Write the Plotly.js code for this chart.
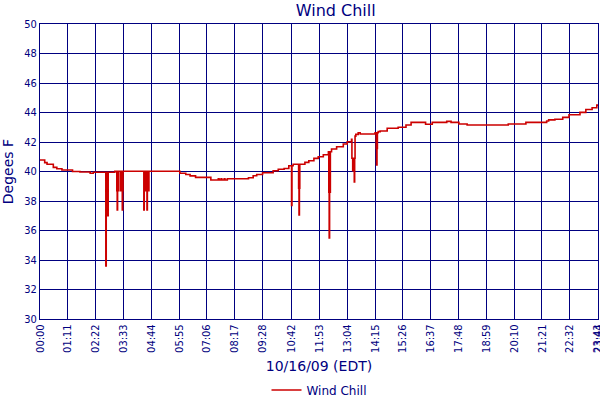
<!DOCTYPE html>
<html>
<head>
<meta charset="utf-8">
<script src="https://cdn.plot.ly/plotly-3.0.1.min.js"></script>
<style>html,body{margin:0;padding:0;background:#fff;}</style>
</head>
<body>
<div id="chart" style="width:600px;height:400px;"></div>
<script>
var day = '2009-10-16 ';

var times = [
 '00:00','00:12','00:18','00:34','00:43','00:56','01:23','01:42','02:08','02:16',
 '02:48','02:49','02:50','02:51','02:52','02:53','02:54',
 '03:11',
 '03:16','03:17','03:18','03:19','03:20','03:21','03:22',
 '03:26','03:28','03:29','03:30','03:31','03:32',
 '04:25','04:26','04:27','04:28','04:29','04:30',
 '04:33','04:34','04:35','04:36','04:37','04:38',
 '05:57','06:12','06:23','06:37',
 '07:16','07:35','07:37','07:42','07:44','07:50','07:52',
 '07:58','08:52','09:04','09:13','09:28','09:55','10:08','10:23','10:35',
 '10:42','10:43',
 '10:46',
 '11:00','11:01','11:02','11:03',
 '11:16','11:26','11:39','11:50','12:03','12:16',
 '12:17','12:18','12:19','12:20','12:21',
 '12:24','12:37','12:54','13:04','13:15',
 '13:16','13:17','13:18','13:19','13:21','13:22','13:23',
 '13:24','13:26','13:32','13:37','14:15',
 '14:18','14:19','14:20',
 '14:21','14:23','14:28','14:46','15:14','15:34','15:47','16:24','16:41','17:18',
 '17:29','17:49','18:10','19:55','20:40','21:33','21:38','21:54','22:14','22:30',
 '22:58','23:13','23:29','23:41','23:44'
];

var windChill = [
 40.78,40.6,40.49,40.28,40.19,40.1,40.0,39.97,39.88,39.95,
 33.6,37.0,39.95,37.0,39.95,37.0,39.95,
 40.02,
 38.7,37.4,38.7,40.02,38.7,40.02,40.02,
 38.7,40.02,38.7,37.4,38.7,40.02,
 37.4,38.7,40.02,38.7,38.7,40.02,
 37.4,38.7,40.02,38.7,38.7,40.02,
 39.88,39.8,39.7,39.6,
 39.42,39.5,39.42,39.5,39.42,39.5,39.42,
 39.51,39.58,39.71,39.8,39.92,40.05,40.15,40.2,40.39,
 37.7,40.39,
 40.49,
 38.86,37.05,38.86,40.49,
 40.62,40.73,40.89,41.0,41.14,41.34,
 38.6,35.5,38.6,38.6,41.34,
 41.53,41.68,41.86,42.02,42.18,
 40.9,40.9,40.05,40.9,40.9,39.3,40.9,
 42.4,42.52,42.63,42.54,42.63,
 41.57,40.44,41.57,
 42.63,42.7,42.75,42.93,43.0,43.15,43.33,43.2,43.33,43.4,
 43.33,43.22,43.15,43.22,43.33,43.42,43.5,43.54,43.67,43.85,
 44.01,44.2,44.32,44.5,44.55
];

var tickTimes = ['00:00','01:11','02:22','03:33','04:44','05:55','07:06','08:17','09:28','10:42',
 '11:53','13:04','14:15','15:26','16:37','17:48','18:59','20:10','21:21','22:32','23:43','23:44'];

var yTicks = [30,32,34,36,38,40,42,44,46,48,50];

var navy = '#000080';
var fontFam = 'DejaVu Sans Condensed, DejaVu Sans, sans-serif';

var trace = {
  type: 'scatter',
  mode: 'lines',
  name: 'Wind Chill',
  x: times.map(function(t){return day + t;}),
  y: windChill,
  line: {color: '#cc0000', width: 1.6, shape: 'hv'},
  hoverinfo: 'x+y'
};

var layout = {
  width: 600, height: 400,
  margin: {l: 40, r: 2, t: 24, b: 81},
  paper_bgcolor: '#ffffff',
  plot_bgcolor: '#ffffff',
  font: {family: fontFam, color: navy},
  title: {text: 'Wind Chill', font: {family: 'DejaVu Sans, sans-serif', size: 16, color: navy},
          x: 0.53, xanchor: 'center', xref: 'paper', y: 0.975, yanchor: 'middle', yref: 'container'},
  showlegend: true,
  legend: {orientation: 'h', x: 0.5, xanchor: 'center', xref: 'paper',
           y: 0.025, yanchor: 'middle', yref: 'container',
           font: {family: 'DejaVu Sans, sans-serif', size: 12, color: navy}, bgcolor: 'rgba(0,0,0,0)'},
  xaxis: {
    type: 'date',
    automargin: false,
    range: [day + '00:00', day + '23:44'],
    tickmode: 'array',
    tickvals: tickTimes.map(function(t){return day + t;}),
    ticktext: tickTimes,
    tickangle: -90,
    ticklabeloverflow: 'allow',
    tickfont: {family: fontFam, size: 11, color: navy},
    showgrid: true, gridcolor: navy, gridwidth: 1,
    showline: true, linecolor: navy, linewidth: 1, mirror: true,
    ticks: '', zeroline: false,
    title: {text: '10/16/09 (EDT)', font: {family: 'DejaVu Sans, sans-serif', size: 14, color: navy}}
  },
  yaxis: {
    automargin: false,
    range: [30, 50],
    tickmode: 'array',
    tickvals: yTicks,
    ticktext: yTicks.map(String),
    tickfont: {family: fontFam, size: 11, color: navy},
    showgrid: true, gridcolor: navy, gridwidth: 1,
    showline: true, linecolor: navy, linewidth: 1, mirror: true,
    ticks: '', zeroline: false,
    title: {text: 'Degees F', font: {family: 'DejaVu Sans, sans-serif', size: 14, color: navy}}
  }
};

Plotly.newPlot('chart', [trace], layout, {staticPlot: true, displayModeBar: false});
</script>
</body>
</html>
